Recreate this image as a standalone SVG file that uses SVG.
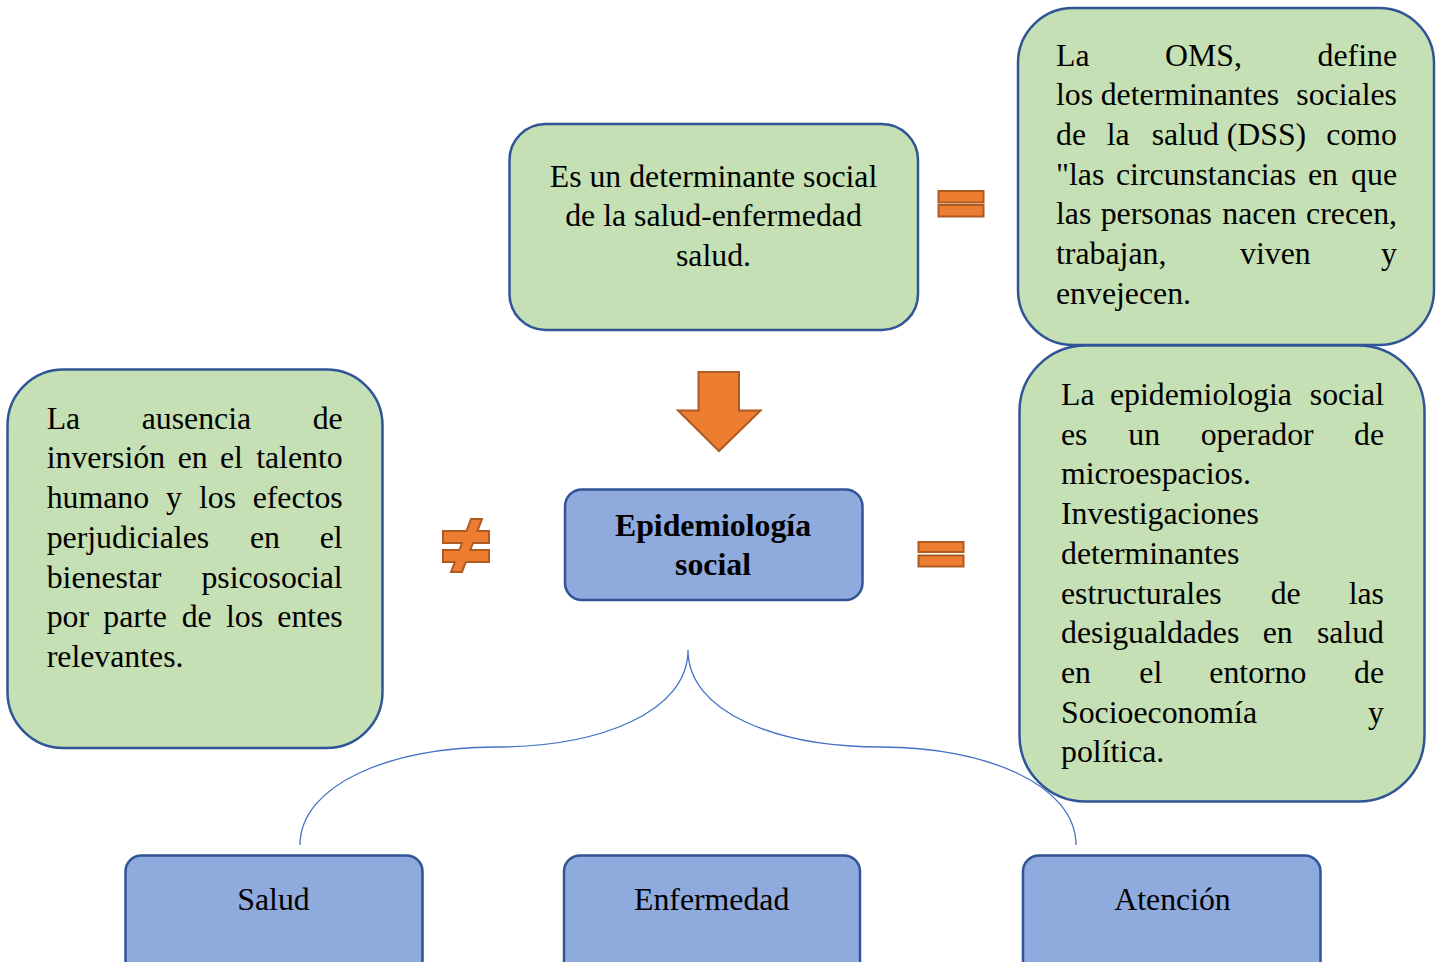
<svg xmlns="http://www.w3.org/2000/svg" width="1440" height="962" viewBox="0 0 1440 962">
<style>
.box{stroke:#2F5597;stroke-width:2.5}
.green{fill:#C5E0B4}
.blue{fill:#8FAADC}
text{font-family:"Liberation Serif","Times New Roman",serif;font-size:31.8px;fill:#000}
.c{text-anchor:middle}
.e{text-anchor:end}
.b{font-weight:bold}
.sym{fill:#ED7D31;stroke:#AE5A21;stroke-width:2;stroke-linejoin:miter}
.brace{fill:none;stroke:#4472C4;stroke-width:1.3}
</style>
<rect width="1440" height="962" fill="#fff"/>

<g id="connectors">
<path class="brace" d="M300,845 C300,785 390,747 495,747 C600,747 688,712 688,650 C688,712 776,747 881,747 C986,747 1076,785 1076,845"/>
<path id="arrow-down" class="sym" d="M698.5,372 L739,372 L739,410.5 L760.5,410.5 L719,451 L678,410.5 L698.5,410.5 Z"/>
<g id="eq-top"><rect class="sym" x="938.5" y="191" width="45" height="11.5"/><rect class="sym" x="938.5" y="205" width="45" height="11.5"/></g>
<g id="eq-mid"><rect class="sym" x="918.5" y="542" width="45" height="10"/><rect class="sym" x="918.5" y="555.5" width="45" height="11"/></g>
<path id="neq" class="sym" d="M471,519 L482,519 L477.5,531 L489,531 L489,543 L473,543 L470.3,550 L489,550 L489,562 L465.8,562 L462,572 L451,572 L454.8,562 L443,562 L443,550 L459.3,550 L462,543 L443,543 L443,531 L466.5,531 Z"/>
</g>

<g id="node-determinante">
<rect class="box green" x="509.5" y="124" width="408.5" height="206" rx="36"/>
<text class="c" x="713.5" y="186.7">Es un determinante social</text>
<text class="c" x="713.5" y="226.2">de la salud-enfermedad</text>
<text class="c" x="713.5" y="265.8">salud.</text>
</g>

<g id="node-oms">
<rect class="box green" x="1018" y="8" width="416" height="337" rx="55"/>
<text y="65.5"><tspan x="1056">La</tspan><tspan x="1165">OMS,</tspan><tspan class="e" x="1397">define</tspan></text>
<text y="105.2"><tspan x="1056">los</tspan><tspan x="1100.7">determinantes</tspan><tspan class="e" x="1397">sociales</tspan></text>
<text y="144.9"><tspan x="1056">de</tspan><tspan x="1106.7">la</tspan><tspan x="1151.7">salud</tspan><tspan x="1226.7">(DSS)</tspan><tspan class="e" x="1397">como</tspan></text>
<text y="184.6"><tspan x="1056">"las</tspan><tspan x="1116">circunstancias</tspan><tspan x="1308">en</tspan><tspan class="e" x="1397">que</tspan></text>
<text y="224.3"><tspan x="1056">las</tspan><tspan x="1100.7">personas</tspan><tspan x="1222.3">nacen</tspan><tspan class="e" x="1397">crecen,</tspan></text>
<text y="264"><tspan x="1056">trabajan,</tspan><tspan x="1240">viven</tspan><tspan class="e" x="1397">y</tspan></text>
<text y="303.7"><tspan x="1056">envejecen.</tspan></text>
</g>

<g id="node-epi-desc">
<rect class="box green" x="1019.5" y="345.5" width="405" height="456" rx="66"/>
<text y="405"><tspan x="1061">La</tspan><tspan x="1110">epidemiologia</tspan><tspan class="e" x="1384">social</tspan></text>
<text y="444.7"><tspan x="1061">es</tspan><tspan x="1128.3">un</tspan><tspan x="1200.7">operador</tspan><tspan class="e" x="1384">de</tspan></text>
<text y="484.4"><tspan x="1061">microespacios.</tspan></text>
<text y="524.1"><tspan x="1061">Investigaciones</tspan></text>
<text y="563.8"><tspan x="1061">determinantes</tspan></text>
<text y="603.5"><tspan x="1061">estructurales</tspan><tspan x="1270.7">de</tspan><tspan class="e" x="1384">las</tspan></text>
<text y="643.2"><tspan x="1061">desigualdades</tspan><tspan x="1262.7">en</tspan><tspan class="e" x="1384">salud</tspan></text>
<text y="682.9"><tspan x="1061">en</tspan><tspan x="1139.3">el</tspan><tspan x="1209.3">entorno</tspan><tspan class="e" x="1384">de</tspan></text>
<text y="722.6"><tspan x="1061">Socioeconomía</tspan><tspan class="e" x="1384">y</tspan></text>
<text y="762.3"><tspan x="1061">política.</tspan></text>
</g>

<g id="node-ausencia">
<rect class="box green" x="7.5" y="369.5" width="375" height="378.5" rx="56"/>
<text y="428.7"><tspan x="46.7">La</tspan><tspan x="141.7">ausencia</tspan><tspan class="e" x="342.7">de</tspan></text>
<text y="468.4"><tspan x="46.7">inversión</tspan><tspan x="177.7">en</tspan><tspan x="220">el</tspan><tspan class="e" x="342.7">talento</tspan></text>
<text y="508.1"><tspan x="46.7">humano</tspan><tspan x="166">y</tspan><tspan x="199">los</tspan><tspan class="e" x="342.7">efectos</tspan></text>
<text y="547.8"><tspan x="46.7">perjudiciales</tspan><tspan x="250">en</tspan><tspan class="e" x="342.7">el</tspan></text>
<text y="587.5"><tspan x="46.7">bienestar</tspan><tspan class="e" x="342.7">psicosocial</tspan></text>
<text y="627.2"><tspan x="46.7">por</tspan><tspan x="103.3">parte</tspan><tspan x="181.7">de</tspan><tspan x="226">los</tspan><tspan class="e" x="342.7">entes</tspan></text>
<text y="666.9"><tspan x="46.7">relevantes.</tspan></text>
</g>

<g id="node-epidemiologia">
<rect class="box blue" x="565" y="489.5" width="297.5" height="110.5" rx="17"/>
<text class="c b" x="713" y="536">Epidemiología</text>
<text class="c b" x="713" y="575">social</text>
</g>

<g id="node-salud">
<rect class="box blue" x="125.5" y="855.5" width="297" height="130" rx="16"/>
<text class="c" x="273.5" y="910">Salud</text>
</g>
<g id="node-enfermedad">
<rect class="box blue" x="564" y="855.5" width="296" height="130" rx="16"/>
<text class="c" x="711.7" y="910">Enfermedad</text>
</g>
<g id="node-atencion">
<rect class="box blue" x="1023" y="855.5" width="297.5" height="130" rx="16"/>
<text class="c" x="1172.5" y="910">Atención</text>
</g>
</svg>
